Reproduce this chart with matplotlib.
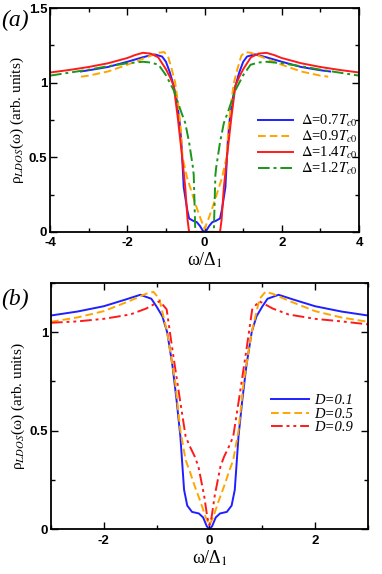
import matplotlib
matplotlib.use("Agg")
import matplotlib.pyplot as plt
from matplotlib.ticker import MultipleLocator, FuncFormatter

plt.rcParams['mathtext.fontset'] = 'stix'

# ---------------- Panel (a) data ----------------
xa_blue = [-3.2, -3.0, -2.5, -2.0, -1.6, -1.3, -1.1, -1.0, -0.9, -0.8, -0.72, -0.65, -0.6, -0.54,
           -0.45, -0.4, -0.3, -0.2, -0.12, -0.05, 0.0,
           0.05, 0.12, 0.2, 0.3, 0.4, 0.45, 0.54, 0.6, 0.65, 0.72, 0.8, 0.9, 1.0, 1.1, 1.3, 1.6,
           2.0, 2.5, 3.0, 3.25]
ya_blue = [1.075, 1.083, 1.105, 1.14, 1.17, 1.19, 1.175, 1.14, 1.07, 0.98, 0.88, 0.75, 0.6, 0.3,
           0.15, 0.09, 0.075, 0.065, 0.04, 0.01, 0.0,
           0.01, 0.04, 0.065, 0.075, 0.09, 0.15, 0.3, 0.6, 0.75, 0.88, 0.98, 1.07, 1.14, 1.175, 1.19, 1.17,
           1.14, 1.105, 1.083, 1.075]

xa_orange = [-3.2, -3.0, -2.5, -2.0, -1.5, -1.2, -1.05, -0.95, -0.85, -0.76, -0.68, -0.62, -0.57,
             -0.5, -0.46, -0.35, -0.24, -0.12, 0.0,
             0.12, 0.24, 0.35, 0.46, 0.5, 0.57, 0.62, 0.68, 0.76, 0.85, 0.95, 1.05, 1.2, 1.5,
             2.0, 2.5, 3.0, 3.2]
ya_orange = [1.04, 1.047, 1.075, 1.12, 1.17, 1.2, 1.205, 1.18, 1.09, 1.0, 0.85, 0.7, 0.5,
             0.42, 0.37, 0.28, 0.19, 0.1, 0.02,
             0.1, 0.19, 0.28, 0.37, 0.42, 0.5, 0.7, 0.85, 1.0, 1.09, 1.18, 1.205, 1.2, 1.17,
             1.12, 1.075, 1.047, 1.04]

xa_red = [-4.0, -3.5, -3.0, -2.5, -2.0, -1.8, -1.6, -1.4, -1.2, -1.0, -0.9, -0.8, -0.7, -0.6,
          -0.5, -0.44, -0.4, 0.0,
          0.4, 0.44, 0.5, 0.6, 0.7, 0.8, 0.9, 1.0, 1.2, 1.4, 1.6, 1.8, 2.0, 2.5, 3.0, 3.5, 4.0]
ya_red = [1.068, 1.085, 1.105, 1.13, 1.165, 1.185, 1.2, 1.195, 1.17, 1.09, 1.04, 0.98, 0.78, 0.55,
          0.3, 0.08, 0.0, 0.0,
          0.0, 0.08, 0.3, 0.55, 0.78, 0.98, 1.04, 1.09, 1.17, 1.195, 1.2, 1.185, 1.165, 1.13, 1.105, 1.085, 1.068]

xa_green = [-4.0, -3.0, -2.5, -2.0, -1.6, -1.4, -1.19, -1.0, -0.8, -0.6, -0.5, -0.4, -0.3, -0.28,
            -0.25, -0.24, 0.0,
            0.24, 0.25, 0.28, 0.3, 0.4, 0.5, 0.6, 0.8, 1.0, 1.19, 1.4, 1.6, 2.0, 2.5, 3.0, 4.0]
ya_green = [1.047, 1.087, 1.11, 1.13, 1.14, 1.135, 1.12, 1.05, 0.95, 0.8, 0.73, 0.6, 0.43, 0.38,
            0.1, 0.0, 0.0,
            0.0, 0.1, 0.38, 0.43, 0.6, 0.73, 0.8, 0.95, 1.05, 1.12, 1.135, 1.14, 1.13, 1.11, 1.087, 1.047]

labels_a = [r'$\Delta$=0.7$T_{c0}$', r'$\Delta$=0.9$T_{c0}$', r'$\Delta$=1.4$T_{c0}$', r'$\Delta$=1.2$T_{c0}$']

# ---------------- Panel (b) data ----------------
xb_blue = [-3.0, -2.5, -2.0, -1.6, -1.31, -1.1, -1.0, -0.89, -0.8, -0.7, -0.62, -0.55, -0.48,
           -0.42, -0.33, -0.2, -0.12, -0.05, 0.0,
           0.05, 0.12, 0.2, 0.33, 0.42, 0.48, 0.55, 0.62, 0.7, 0.8, 0.89, 1.0, 1.1, 1.31, 1.6,
           2.0, 2.5, 3.0]
yb_blue = [1.085, 1.105, 1.132, 1.165, 1.19, 1.17, 1.13, 1.08, 1.0, 0.83, 0.65, 0.47, 0.2,
           0.12, 0.088, 0.08, 0.06, 0.015, 0.0,
           0.015, 0.06, 0.08, 0.088, 0.12, 0.2, 0.47, 0.65, 0.83, 1.0, 1.08, 1.13, 1.17, 1.19, 1.165,
           1.132, 1.105, 1.085]

xb_orange = [-3.0, -2.5, -2.0, -1.5, -1.2, -1.06, -0.95, -0.8, -0.65, -0.55, -0.45, -0.38, -0.28,
             -0.17, -0.07, 0.0,
             0.07, 0.17, 0.28, 0.38, 0.45, 0.55, 0.65, 0.8, 0.95, 1.06, 1.2, 1.5, 2.0, 2.5, 3.0]
yb_orange = [1.053, 1.075, 1.107, 1.16, 1.195, 1.205, 1.17, 1.0, 0.75, 0.5, 0.35, 0.3, 0.22,
             0.14, 0.06, 0.02,
             0.06, 0.14, 0.22, 0.3, 0.35, 0.5, 0.75, 1.0, 1.17, 1.205, 1.195, 1.16, 1.107, 1.075, 1.053]

xb_red = [-3.0, -2.5, -2.0, -1.5, -1.2, -0.94, -0.81, -0.7, -0.56, -0.45, -0.37, -0.28, -0.21,
          -0.1, -0.04, 0.0,
          0.04, 0.1, 0.21, 0.28, 0.37, 0.45, 0.56, 0.7, 0.81, 0.94, 1.2, 1.5, 2.0, 2.5, 3.0]
yb_red = [1.048, 1.055, 1.068, 1.09, 1.12, 1.158, 1.116, 0.91, 0.66, 0.47, 0.42, 0.37, 0.32,
          0.17, 0.06, 0.02,
          0.06, 0.17, 0.32, 0.37, 0.42, 0.47, 0.66, 0.91, 1.116, 1.158, 1.12, 1.09, 1.068, 1.055, 1.04]

labels_b = ['D=0.1', 'D=0.5', 'D=0.9']

BLUE = '#1f1fff'
ORANGE = '#ffa500'
RED = '#ff1a1a'
GREEN = '#1a961a'

fig = plt.figure(figsize=(3.82, 5.74), dpi=100)
ax1 = fig.add_axes([0.131, 0.596, 0.809, 0.390])
ax2 = fig.add_axes([0.1335, 0.078, 0.8295, 0.429])

lw = 1.4
ax1.plot(xa_blue, ya_blue, color=BLUE, lw=lw, label=labels_a[0])
ax1.plot(xa_orange, ya_orange, color=ORANGE, lw=lw, ls=(0, (4, 2)), label=labels_a[1])
ax1.plot(xa_red, ya_red, color=RED, lw=lw, label=labels_a[2])
ax1.plot(xa_green, ya_green, color=GREEN, lw=lw, ls=(0, (6, 2, 1.5, 2)), label=labels_a[3])

ax2.plot(xb_blue, yb_blue, color=BLUE, lw=lw, label=labels_b[0])
ax2.plot(xb_orange, yb_orange, color=ORANGE, lw=lw, ls=(0, (4, 2)), label=labels_b[1])
ax2.plot(xb_red, yb_red, color=RED, lw=lw, ls=(0, (6, 2, 1.5, 2, 1.5, 2)), label=labels_b[2])

ax1.set_xlim(-4, 4)
ax1.set_ylim(0, 1.5)
ax2.set_xlim(-3, 3)
ax2.set_ylim(0, 1.25)

fmt = FuncFormatter(lambda v, p: '%g' % v)
for ax, xmaj, ymaj in ((ax1, [-4, -2, 0, 2, 4], [0, 0.5, 1, 1.5]), (ax2, [-2, 0, 2], [0, 0.5, 1])):
    ax.set_xticks(xmaj)
    ax.set_yticks(ymaj)
    ax.xaxis.set_minor_locator(MultipleLocator(1))
    ax.yaxis.set_minor_locator(MultipleLocator(0.25))
    ax.xaxis.set_major_formatter(fmt)
    ax.yaxis.set_major_formatter(fmt)
    ax.tick_params(which='both', direction='in', top=True, right=True, width=1.0)
    ax.tick_params(which='major', length=5, labelsize=9.5)
    ax.tick_params(axis='x', which='major', pad=4)
    ax.tick_params(axis='y', which='major', pad=2)
    ax.tick_params(which='minor', length=3)
    for lab in ax.get_xticklabels() + ax.get_yticklabels():
        lab.set_fontweight('bold')
        lab.set_family('Liberation Sans')
    for s in ax.spines.values():
        s.set_linewidth(1.3)
    ax.set_xlabel('ω/Δ$_1$', family='Liberation Serif', fontsize=13, labelpad=1)
    ax.set_ylabel('ρ$_{LDOS}$(ω) (arb. units)', family='Liberation Serif', fontsize=11, labelpad=2)

leg1 = ax1.legend(loc='upper left', bbox_to_anchor=(0.65, 0.565), frameon=False,
                  prop={'family': 'Liberation Serif', 'size': 10.5}, handlelength=2.4,
                  handletextpad=0.5, labelspacing=0.0, borderpad=0)
leg2 = ax2.legend(loc='upper left', bbox_to_anchor=(0.67, 0.578), frameon=False,
                  prop={'family': 'Liberation Serif', 'size': 10.5, 'style': 'italic'}, handlelength=2.6,
                  handletextpad=0.4, labelspacing=0.0, borderpad=0)

fig.text(0.003, 0.955, '(a)', family='Liberation Serif', style='italic', fontsize=17)
fig.text(0.003, 0.468, '(b)', family='Liberation Serif', style='italic', fontsize=17)

fig.savefig('out.png', dpi=100)
